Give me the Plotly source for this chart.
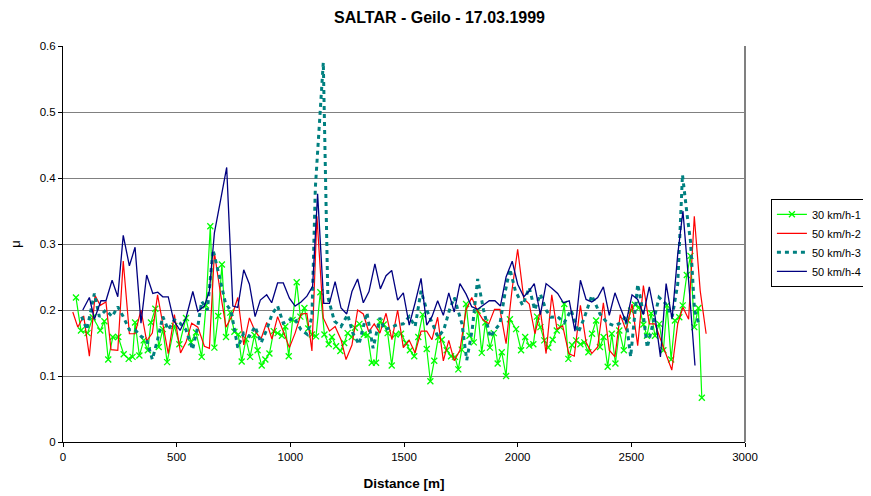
import plotly.graph_objects as go

# 30 km/h-1
dist_1 = [57, 79, 108, 131, 164, 182, 199, 219, 243, 267, 289, 306, 317, 336, 355, 373, 387, 406, 421, 439,
          458, 490, 512, 541, 563, 585, 610, 629, 648, 666, 683, 699, 717, 736, 754, 771, 786, 805, 823, 842,
          856, 874, 890, 908, 927, 944, 963, 978, 993, 1010, 1028, 1044, 1062, 1079, 1095, 1113, 1132, 1150,
          1169, 1183, 1201, 1220, 1237, 1252, 1270, 1284, 1304, 1323, 1340, 1358, 1377, 1394, 1411, 1428,
          1446, 1463, 1487, 1509, 1526, 1545, 1563, 1582, 1600, 1616, 1633, 1651, 1666, 1688, 1707, 1724,
          1739, 1754, 1773, 1788, 1807, 1824, 1842, 1858, 1878, 1895, 1912, 1930, 1949, 1966, 1993, 2015,
          2033, 2051, 2069, 2085, 2100, 2117, 2135, 2154, 2172, 2188, 2205, 2223, 2239, 2257, 2276, 2293,
          2311, 2327, 2345, 2362, 2378, 2396, 2414, 2430, 2447, 2467, 2484, 2499, 2516, 2535, 2553, 2569,
          2587, 2604, 2623, 2641, 2657, 2675, 2692, 2711, 2726, 2744, 2760, 2777, 2795, 2810]
mu_1 = [0.219, 0.169, 0.165, 0.189, 0.169, 0.183, 0.125, 0.159, 0.159, 0.133, 0.126, 0.129, 0.181, 0.131,
        0.154, 0.139, 0.181, 0.202, 0.144, 0.171, 0.121, 0.176, 0.148, 0.188, 0.151, 0.166, 0.129, 0.207,
        0.327, 0.143, 0.191, 0.269, 0.159, 0.196, 0.167, 0.163, 0.122, 0.156, 0.129, 0.162, 0.139, 0.116,
        0.125, 0.134, 0.168, 0.165, 0.161, 0.175, 0.130, 0.185, 0.242, 0.190, 0.203, 0.172, 0.163, 0.160,
        0.227, 0.163, 0.148, 0.159, 0.145, 0.138, 0.150, 0.165, 0.159, 0.173, 0.179, 0.163, 0.162, 0.120,
        0.120, 0.182, 0.178, 0.165, 0.116, 0.163, 0.164, 0.150, 0.139, 0.130, 0.159, 0.193, 0.141, 0.092,
        0.123, 0.159, 0.155, 0.139, 0.130, 0.129, 0.110, 0.140, 0.209, 0.161, 0.151, 0.199, 0.135, 0.181,
        0.143, 0.165, 0.119, 0.136, 0.100, 0.186, 0.171, 0.139, 0.159, 0.146, 0.148, 0.190, 0.174, 0.154,
        0.143, 0.155, 0.169, 0.174, 0.209, 0.126, 0.147, 0.154, 0.148, 0.151, 0.136, 0.164, 0.184, 0.144,
        0.159, 0.114, 0.164, 0.119, 0.169, 0.139, 0.184, 0.199, 0.208, 0.204, 0.178, 0.161, 0.195, 0.161,
        0.179, 0.139, 0.207, 0.125, 0.184, 0.189, 0.207, 0.253, 0.282, 0.174, 0.203, 0.067]

# 50 km/h-2
dist_2 = [43, 65, 91, 116, 141, 164, 189, 211, 241, 265, 292, 317, 343, 368, 393, 416, 439, 463, 490, 517,
          541, 566, 593, 622, 644, 666, 691, 717, 743, 769, 795, 820, 845, 871, 896, 919, 944, 969, 996, 1021,
          1047, 1073, 1095, 1117, 1145, 1172, 1197, 1223, 1245, 1271, 1296, 1321, 1345, 1369, 1394, 1421,
          1447, 1472, 1497, 1523, 1549, 1575, 1600, 1623, 1648, 1673, 1697, 1721, 1746, 1773, 1798, 1821,
          1846, 1873, 1898, 1922, 1949, 1975, 2000, 2027, 2051, 2076, 2100, 2125, 2150, 2173, 2198, 2225,
          2249, 2276, 2301, 2326, 2352, 2377, 2403, 2428, 2451, 2477, 2503, 2528, 2553, 2579, 2604, 2628,
          2653, 2678, 2704, 2727, 2752, 2777, 2803, 2829]
mu_2 = [0.197, 0.174, 0.191, 0.130, 0.222, 0.207, 0.212, 0.140, 0.139, 0.274, 0.164, 0.164, 0.200, 0.153,
        0.165, 0.223, 0.179, 0.134, 0.193, 0.135, 0.151, 0.180, 0.174, 0.145, 0.142, 0.287, 0.229, 0.174,
        0.191, 0.219, 0.147, 0.188, 0.168, 0.156, 0.181, 0.156, 0.190, 0.166, 0.143, 0.165, 0.194, 0.195,
        0.138, 0.342, 0.188, 0.168, 0.175, 0.155, 0.125, 0.147, 0.200, 0.194, 0.167, 0.179, 0.165, 0.195,
        0.155, 0.200, 0.143, 0.154, 0.135, 0.168, 0.168, 0.155, 0.189, 0.123, 0.154, 0.123, 0.139, 0.200,
        0.219, 0.200, 0.186, 0.179, 0.201, 0.201, 0.149, 0.230, 0.292, 0.217, 0.209, 0.164, 0.199, 0.134,
        0.223, 0.171, 0.176, 0.134, 0.130, 0.207, 0.151, 0.134, 0.144, 0.211, 0.139, 0.129, 0.193, 0.169,
        0.209, 0.146, 0.237, 0.179, 0.179, 0.156, 0.131, 0.109, 0.179, 0.204, 0.186, 0.342, 0.229, 0.164]

# 50 km/h-3
dist_3 = [82, 105, 138, 160, 189, 216, 241, 265, 292, 317, 343, 368, 393, 416, 439, 463, 490, 515, 541, 570,
          593, 610, 635, 660, 690, 715, 739, 769, 795, 820, 845, 871, 896, 919, 944, 969, 996, 1018, 1047,
          1075, 1095, 1110, 1145, 1165, 1194, 1223, 1252, 1275, 1302, 1337, 1364, 1394, 1415, 1436, 1472,
          1497, 1523, 1549, 1575, 1600, 1625, 1650, 1675, 1700, 1721, 1755, 1776, 1800, 1824, 1850, 1880,
          1900, 1922, 1946, 1966, 1990, 2022, 2051, 2075, 2100, 2125, 2146, 2175, 2205, 2235, 2267, 2295,
          2326, 2362, 2395, 2425, 2450, 2475, 2497, 2528, 2550, 2570, 2595, 2622, 2650, 2680, 2704, 2725,
          2745, 2760, 2778, 2795]
mu_3 = [0.190, 0.170, 0.225, 0.190, 0.200, 0.190, 0.205, 0.190, 0.170, 0.170, 0.160, 0.155, 0.125, 0.155,
        0.190, 0.170, 0.185, 0.180, 0.170, 0.140, 0.175, 0.213, 0.200, 0.291, 0.248, 0.210, 0.199, 0.143,
        0.165, 0.160, 0.175, 0.150, 0.170, 0.193, 0.206, 0.180, 0.185, 0.188, 0.170, 0.163, 0.190, 0.385,
        0.575, 0.220, 0.183, 0.175, 0.193, 0.165, 0.148, 0.196, 0.142, 0.188, 0.170, 0.173, 0.178, 0.179,
        0.190, 0.175, 0.229, 0.200, 0.180, 0.159, 0.170, 0.200, 0.219, 0.179, 0.124, 0.170, 0.247, 0.200,
        0.159, 0.170, 0.179, 0.229, 0.262, 0.229, 0.207, 0.234, 0.200, 0.224, 0.200, 0.189, 0.190, 0.181,
        0.200, 0.166, 0.190, 0.222, 0.194, 0.180, 0.176, 0.180, 0.190, 0.129, 0.239, 0.200, 0.143, 0.180,
        0.219, 0.210, 0.190, 0.239, 0.405, 0.345, 0.305, 0.200, 0.181]

# 50 km/h-4
dist_4 = [87, 116, 138, 167, 189, 216, 241, 265, 292, 317, 343, 368, 395, 417, 439, 463, 487, 515, 541, 571,
          593, 622, 644, 666, 695, 720, 747, 769, 795, 820, 845, 868, 896, 918, 944, 969, 996, 1021, 1047,
          1073, 1098, 1120, 1147, 1172, 1197, 1223, 1248, 1271, 1296, 1321, 1346, 1372, 1396, 1421, 1446,
          1472, 1497, 1523, 1549, 1575, 1600, 1623, 1648, 1673, 1697, 1721, 1746, 1773, 1798, 1824, 1851,
          1875, 1900, 1924, 1949, 1976, 2000, 2027, 2051, 2073, 2100, 2125, 2150, 2176, 2201, 2227, 2252,
          2276, 2301, 2326, 2352, 2377, 2403, 2428, 2451, 2477, 2503, 2528, 2553, 2579, 2604, 2628, 2653,
          2679, 2704, 2727, 2752, 2780]
mu_4 = [0.200, 0.219, 0.186, 0.214, 0.214, 0.245, 0.220, 0.313, 0.267, 0.295, 0.180, 0.253, 0.225, 0.227,
        0.220, 0.220, 0.184, 0.169, 0.188, 0.228, 0.198, 0.206, 0.229, 0.317, 0.370, 0.416, 0.206, 0.204,
        0.261, 0.239, 0.190, 0.215, 0.223, 0.211, 0.241, 0.241, 0.218, 0.206, 0.212, 0.221, 0.236, 0.376,
        0.210, 0.210, 0.243, 0.203, 0.194, 0.228, 0.247, 0.211, 0.228, 0.270, 0.232, 0.252, 0.260, 0.215,
        0.226, 0.177, 0.211, 0.248, 0.177, 0.190, 0.214, 0.192, 0.226, 0.197, 0.240, 0.224, 0.205, 0.201,
        0.208, 0.214, 0.214, 0.206, 0.250, 0.274, 0.239, 0.220, 0.229, 0.240, 0.193, 0.240, 0.233, 0.225,
        0.211, 0.214, 0.168, 0.245, 0.216, 0.212, 0.219, 0.235, 0.192, 0.226, 0.204, 0.181, 0.223, 0.216,
        0.193, 0.235, 0.191, 0.129, 0.240, 0.186, 0.284, 0.350, 0.244, 0.116]

font = "Liberation Sans, Arial, sans-serif"

# the page body adds an ~8px offset, so the figure is a bit smaller than the window
W, H = 863, 488

fig = go.Figure()
fig.add_trace(go.Scatter(x=dist_1, y=mu_1, name="30 km/h-1", mode="lines+markers",
                         line=dict(color="#00FF00", width=1.2),
                         marker=dict(symbol="x-thin-open", size=6, color="#00FF00",
                                     line=dict(color="#00FF00", width=1.3))))
fig.add_trace(go.Scatter(x=dist_2, y=mu_2, name="50 km/h-2", mode="lines",
                         line=dict(color="#FF0000", width=1.2)))
fig.add_trace(go.Scatter(x=dist_3, y=mu_3, name="50 km/h-3", mode="lines",
                         line=dict(color="#008080", width=3, dash="4px,4px")))
fig.add_trace(go.Scatter(x=dist_4, y=mu_4, name="50 km/h-4", mode="lines",
                         line=dict(color="#000080", width=1.3)))

# grey frame on the right edge of the plot area
fig.add_shape(type="line", xref="paper", yref="paper", x0=1, x1=1, y0=0, y1=1,
              line=dict(color="#808080", width=2))

fig.update_layout(
    width=W, height=H,
    margin=dict(l=55, r=126, t=38, b=54, autoexpand=False),
    paper_bgcolor="white", plot_bgcolor="white",
    font=dict(family=font, size=11, color="black"),
    title=dict(text="<b>SALTAR - Geilo - 17.03.1999</b>", xref="container", x=0.5, xanchor="center",
               y=1 - 9 / H, yanchor="middle", font=dict(size=16)),
    xaxis=dict(range=[0, 3000], tickvals=[0, 500, 1000, 1500, 2000, 2500, 3000],
               showgrid=False, zeroline=False, showline=True, linecolor="black", linewidth=1,
               ticks="outside", ticklen=4, tickcolor="black", automargin=False,
               tickfont=dict(size=11.5),
               title=dict(text="<b>Distance [m]</b>", font=dict(size=13.5), standoff=16)),
    yaxis=dict(range=[0, 0.6], tickvals=[0, 0.1, 0.2, 0.3, 0.4, 0.5, 0.6],
               ticktext=["0", "0.1", "0.2", "0.3", "0.4", "0.5", "0.6"],
               showgrid=True, gridcolor="#808080", gridwidth=1, zeroline=False,
               showline=True, linecolor="black", linewidth=1, automargin=False,
               ticks="outside", ticklen=4, tickcolor="black", tickfont=dict(size=11.5),
               title=dict(text="μ", font=dict(size=13), standoff=18)),
    legend=dict(x=1.038, xanchor="left", y=0.503, yanchor="middle",
                bordercolor="black", borderwidth=1, bgcolor="white",
                font=dict(size=11), tracegroupgap=0, itemwidth=30),
    showlegend=True,
)

fig.write_html("out.html")
